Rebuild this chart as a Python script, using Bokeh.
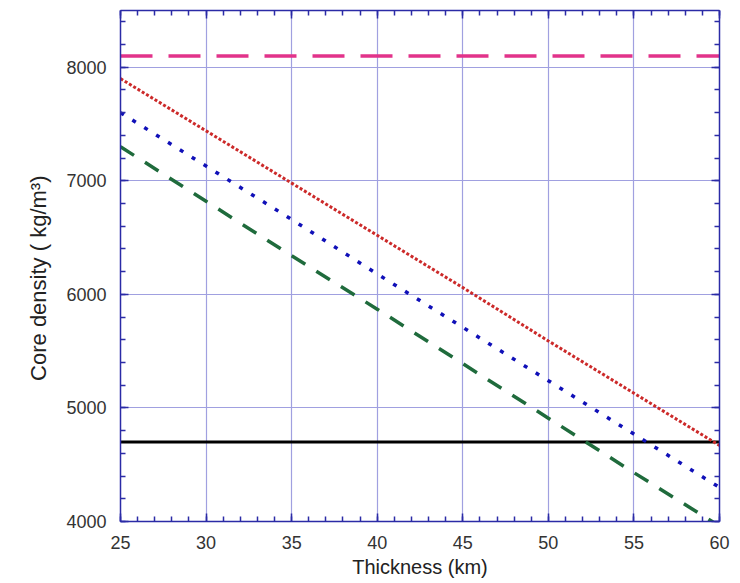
from bokeh.plotting import figure
from bokeh.models import LinearAxis, SingleIntervalTicker, Range1d, Grid, CustomJSTickFormatter
from bokeh.embed import file_html
from bokeh.resources import INLINE

# Crust thickness (km) and corresponding core density curves (kg/m^3)
thickness = [25, 30, 35, 40, 45, 50, 55, 60]
density_red = [7900, 7440, 6980, 6520, 6060, 5590, 5130, 4670]
density_blue = [7600, 7130, 6660, 6180, 5710, 5240, 4770, 4300]
density_green = [7300, 6820, 6340, 5870, 5390, 4910, 4430, 3960]
ref_x = [25, 60]
iron_density = [8100, 8100]
min_density = [4700, 4700]

AXIS_COLOR = "#2b2ba6"
GRID_COLOR = "#a0a0e0"
FONT = "Liberation Sans"

p = figure(width=740, height=583, output_backend="svg", toolbar_location=None,
           x_range=Range1d(25, 60), y_range=Range1d(4000, 8500),
           x_axis_type=None, y_axis_type=None,
           min_border_left=120, min_border_right=21,
           min_border_top=10, min_border_bottom=62)
p.outline_line_color = None
p.background_fill_color = "white"
p.border_fill_color = "white"


def make_axis(ticker, label=None, show_labels=True, standoff=12):
    ax = LinearAxis(ticker=ticker)
    ax.axis_line_color = AXIS_COLOR
    ax.axis_line_width = 1.5
    ax.major_tick_line_color = AXIS_COLOR
    ax.minor_tick_line_color = AXIS_COLOR
    ax.major_tick_line_width = 1.5
    ax.minor_tick_line_width = 1.5
    ax.major_tick_in = 8
    ax.major_tick_out = 0
    ax.minor_tick_in = 5
    ax.minor_tick_out = 0
    ax.major_label_text_font = FONT
    ax.major_label_text_color = "#333333"
    ax.major_label_text_font_size = "18px"
    ax.major_label_standoff = standoff
    if not show_labels:
        # tick marks only on the top and right frame edges
        ax.formatter = CustomJSTickFormatter(code="return '';")
        ax.major_label_standoff = 0
    if label:
        ax.axis_label = label
        ax.axis_label_text_font = FONT
        ax.axis_label_text_font_size = "20px"
        ax.axis_label_text_font_style = "normal"
        ax.axis_label_text_color = "#222222"
        ax.axis_label_standoff = 4
    return ax


def xt():
    return SingleIntervalTicker(interval=5, num_minor_ticks=5)


def yt():
    return SingleIntervalTicker(interval=1000, num_minor_ticks=5)


p.add_layout(make_axis(xt(), "Thickness (km)", standoff=14), "below")
# trailing no-break spaces nudge the rotated label slightly downwards
yax = make_axis(yt(), "Core density ( kg/m³)\u00a0\u00a0\u00a0\u00a0", standoff=14)
yax.axis_label_text_font_size = "22px"
yax.axis_label_standoff = 12
p.add_layout(yax, "left")
p.add_layout(make_axis(xt(), show_labels=False), "above")
p.add_layout(make_axis(yt(), show_labels=False), "right")

# grid lines at the major ticks
p.add_layout(Grid(dimension=0, ticker=xt(), grid_line_color=GRID_COLOR, grid_line_width=1.2))
p.add_layout(Grid(dimension=1, ticker=yt(), grid_line_color=GRID_COLOR, grid_line_width=1.2))

p.line(ref_x, iron_density, line_color="#e2338a", line_width=3.5, line_dash="32 16")
p.line(ref_x, min_density, line_color="#000000", line_width=3)
p.line(thickness, density_red, line_color="#cc2a2a", line_width=3, line_dash="3 2")
p.line(thickness, density_blue, line_color="#1010b8", line_width=3.5, line_dash="4 10")
p.line(thickness, density_green, line_color="#1f6b3c", line_width=3.5, line_dash="16 13")

open("out.html", "w").write(file_html(p, INLINE))
